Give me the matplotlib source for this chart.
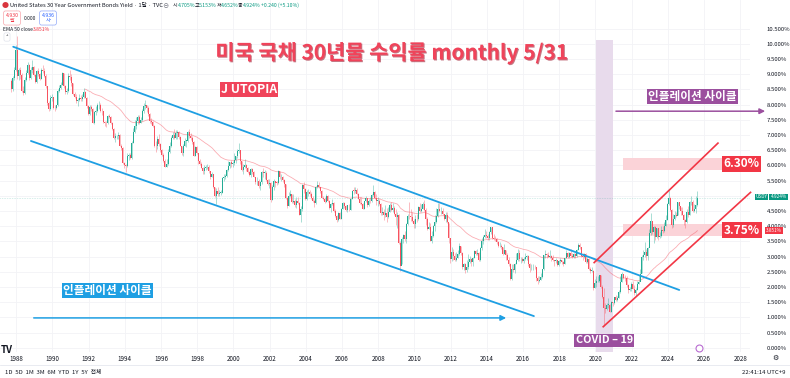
import matplotlib.pyplot as plt
import matplotlib.patheffects as pe
import numpy as np
import pandas as pd
from matplotlib.patches import Rectangle

plt.rcParams['font.family'] = ['Noto Sans CJK KR', 'DejaVu Sans']

# monthly candles, first bar = Jun 1987, last bar = May 2025
first_month = 1987 + 5 / 12
first_open = 8.78

close = [
    8.50, 8.88, 9.15, 9.78, 8.95, 9.12, 8.98,                             # 1987 Jun-Dec
    8.45, 8.38, 8.82, 9.05, 9.30, 8.86, 9.15, 9.25, 8.98, 8.75, 9.10, 9.00,  # 1988
    8.85, 9.15, 9.10, 8.95, 8.60, 8.05, 7.85, 8.20, 8.25, 7.90, 7.88, 7.97,  # 1989
    8.45, 8.55, 8.65, 9.02, 8.62, 8.42, 8.43, 8.95, 8.90, 8.70, 8.35, 8.24,  # 1990
    8.12, 8.15, 8.22, 8.18, 8.25, 8.40, 8.22, 7.95, 7.70, 7.92, 7.85, 7.40,  # 1991
    7.75, 7.80, 7.97, 8.00, 7.80, 7.78, 7.42, 7.40, 7.38, 7.62, 7.60, 7.40,  # 1992
    7.20, 6.90, 6.95, 6.95, 7.00, 6.65, 6.58, 6.08, 6.02, 5.98, 6.30, 6.35,  # 1993
    6.25, 6.75, 7.10, 7.30, 7.45, 7.60, 7.40, 7.50, 7.80, 7.95, 7.98, 7.88,  # 1994
    7.70, 7.45, 7.42, 7.30, 6.65, 6.62, 6.85, 6.70, 6.50, 6.35, 6.15, 5.95,  # 1995
    6.05, 6.45, 6.65, 6.90, 7.00, 6.90, 7.05, 7.10, 6.92, 6.65, 6.40, 6.64,  # 1996
    6.80, 6.80, 7.10, 6.95, 6.90, 6.78, 6.30, 6.60, 6.40, 6.15, 6.05, 5.92,  # 1997
    5.80, 5.92, 5.93, 5.95, 5.80, 5.62, 5.72, 5.27, 5.00, 5.15, 5.05, 5.09,  # 1998
    5.09, 5.58, 5.63, 5.66, 5.83, 5.97, 6.10, 6.05, 6.06, 6.16, 6.29, 6.48,  # 1999
    6.49, 6.14, 5.83, 5.96, 6.01, 5.90, 5.78, 5.67, 5.88, 5.79, 5.61, 5.46,  # 2000
    5.50, 5.31, 5.44, 5.79, 5.75, 5.76, 5.52, 5.37, 5.42, 4.87, 5.29, 5.47,  # 2001
    5.43, 5.42, 5.80, 5.60, 5.62, 5.52, 5.37, 4.93, 4.67, 4.99, 5.04, 4.78,  # 2002
    4.84, 4.68, 4.82, 4.77, 4.36, 4.56, 5.36, 5.22, 4.88, 5.11, 5.12, 5.07,  # 2003
    4.92, 4.83, 4.77, 5.29, 5.34, 5.29, 5.17, 4.94, 4.88, 4.79, 5.00, 4.83,  # 2004
    4.59, 4.72, 4.75, 4.50, 4.32, 4.19, 4.43, 4.24, 4.56, 4.76, 4.67, 4.54,  # 2005
    4.69, 4.54, 4.89, 5.17, 5.16, 5.19, 5.07, 4.89, 4.77, 4.72, 4.56, 4.81,  # 2006
    4.92, 4.68, 4.84, 4.81, 5.01, 5.12, 4.92, 4.83, 4.83, 4.72, 4.42, 4.45,  # 2007
    4.35, 4.42, 4.30, 4.48, 4.71, 4.53, 4.58, 4.41, 4.31, 4.36, 3.44, 2.69,  # 2008
    3.59, 3.71, 3.56, 4.08, 4.34, 4.32, 4.29, 4.18, 4.06, 4.24, 4.22, 4.64,  # 2009
    4.49, 4.57, 4.72, 4.53, 4.22, 3.91, 3.98, 3.52, 3.69, 3.99, 4.12, 4.34,  # 2010
    4.57, 4.50, 4.51, 4.40, 4.22, 4.37, 4.12, 3.60, 2.91, 3.16, 3.01, 2.89,  # 2011
    2.94, 3.09, 3.34, 3.11, 2.64, 2.75, 2.55, 2.67, 2.82, 2.91, 2.81, 2.95,  # 2012
    3.17, 3.09, 3.10, 2.88, 3.27, 3.50, 3.64, 3.70, 3.69, 3.62, 3.81, 3.96,  # 2013
    3.60, 3.58, 3.56, 3.47, 3.33, 3.36, 3.32, 3.08, 3.20, 3.06, 2.89, 2.75,  # 2014
    2.25, 2.59, 2.54, 2.75, 2.88, 3.12, 2.91, 2.92, 2.85, 2.92, 2.98, 3.01,  # 2015
    2.75, 2.61, 2.61, 2.67, 2.64, 2.29, 2.18, 2.23, 2.32, 2.58, 3.04, 3.07,  # 2016
    3.06, 3.00, 3.01, 2.96, 2.87, 2.84, 2.90, 2.73, 2.86, 2.88, 2.83, 2.74,  # 2017
    2.95, 3.13, 2.97, 3.11, 3.03, 2.99, 3.08, 3.02, 3.21, 3.39, 3.30, 3.02,  # 2018
    3.00, 3.09, 2.82, 2.93, 2.58, 2.53, 2.53, 1.97, 2.12, 2.19, 2.21, 2.39,  # 2019
    2.00, 1.68, 1.32, 1.28, 1.41, 1.41, 1.19, 1.49, 1.46, 1.66, 1.57, 1.65,  # 2020
    1.83, 2.17, 2.41, 2.30, 2.29, 2.06, 1.89, 1.93, 2.08, 1.93, 1.79, 1.90,  # 2021
    2.11, 2.16, 2.44, 3.00, 3.05, 3.14, 3.01, 3.28, 3.78, 4.17, 3.79, 3.97,  # 2022
    3.63, 3.93, 3.65, 3.67, 3.86, 3.85, 4.02, 4.20, 4.73, 4.93, 4.54, 4.03,  # 2023
    4.22, 4.38, 4.34, 4.79, 4.65, 4.51, 4.36, 4.20, 4.12, 4.47, 4.36, 4.78,  # 2024
    4.79, 4.49, 4.57, 4.705, 4.924,                                          # 2025 Jan-May
]

high = [
    8.85, 8.95, 9.25, 9.95, 10.25, 9.20, 9.25,
    9.05, 8.60, 8.90, 9.15, 9.40, 9.32, 9.25, 9.45, 9.28, 9.00, 9.15, 9.20,
    9.05, 9.20, 9.30, 9.20, 9.00, 8.62, 8.10, 8.30, 8.35, 8.25, 7.98, 8.00,
    8.50, 8.65, 8.75, 9.08, 9.05, 8.65, 8.55, 9.05, 9.15, 9.00, 8.72, 8.40,
    8.35, 8.22, 8.35, 8.30, 8.35, 8.55, 8.45, 8.25, 7.98, 7.98, 7.98, 7.90,
    7.80, 7.95, 8.05, 8.10, 8.05, 7.90, 7.80, 7.45, 7.45, 7.65, 7.70, 7.62,
    7.42, 7.22, 7.05, 7.00, 7.10, 7.02, 6.70, 6.60, 6.12, 6.05, 6.40, 6.42,
    6.40, 6.80, 7.22, 7.48, 7.60, 7.65, 7.65, 7.60, 7.85, 8.05, 8.16, 8.00,
    7.95, 7.72, 7.55, 7.45, 7.32, 6.80, 6.95, 7.02, 6.72, 6.52, 6.40, 6.20,
    6.20, 6.55, 6.78, 6.95, 7.08, 7.20, 7.15, 7.15, 7.12, 6.95, 6.65, 6.70,
    6.90, 6.82, 7.12, 7.18, 7.05, 6.95, 6.80, 6.65, 6.62, 6.42, 6.20, 6.10,
    5.95, 6.00, 6.00, 6.05, 6.00, 5.82, 5.78, 5.72, 5.30, 5.25, 5.30, 5.20,
    5.20, 5.60, 5.70, 5.72, 5.88, 6.15, 6.12, 6.18, 6.15, 6.40, 6.32, 6.52,
    6.75, 6.50, 6.15, 6.05, 6.20, 6.05, 5.95, 5.82, 5.90, 5.92, 5.80, 5.62,
    5.62, 5.55, 5.50, 5.82, 5.90, 5.85, 5.80, 5.55, 5.55, 5.45, 5.35, 5.55,
    5.50, 5.48, 5.85, 5.82, 5.70, 5.65, 5.55, 5.40, 4.95, 5.12, 5.20, 5.05,
    5.05, 4.90, 4.95, 4.95, 4.78, 4.65, 5.38, 5.45, 5.25, 5.20, 5.22, 5.20,
    5.12, 4.98, 4.88, 5.32, 5.48, 5.45, 5.30, 5.18, 5.00, 4.95, 5.05, 5.02,
    4.85, 4.75, 4.90, 4.78, 4.55, 4.38, 4.48, 4.48, 4.60, 4.80, 4.80, 4.70,
    4.70, 4.72, 4.92, 5.20, 5.30, 5.30, 5.25, 5.08, 4.95, 4.95, 4.75, 4.82,
    4.98, 4.92, 4.88, 4.95, 5.05, 5.35, 5.15, 5.05, 4.95, 4.90, 4.75, 4.62,
    4.55, 4.70, 4.60, 4.62, 4.75, 4.80, 4.75, 4.65, 4.55, 4.45, 4.40, 3.50,
    3.65, 3.75, 3.85, 4.10, 4.40, 4.80, 4.55, 4.45, 4.25, 4.35, 4.40, 4.65,
    4.75, 4.72, 4.80, 4.85, 4.60, 4.30, 4.15, 4.10, 3.85, 4.05, 4.35, 4.60,
    4.75, 4.77, 4.62, 4.60, 4.40, 4.45, 4.45, 4.10, 3.60, 3.30, 3.25, 3.10,
    3.15, 3.20, 3.45, 3.35, 3.15, 2.80, 2.80, 2.90, 3.08, 3.02, 2.95, 3.00,
    3.20, 3.22, 3.25, 3.15, 3.32, 3.60, 3.72, 3.90, 3.85, 3.75, 3.85, 3.98,
    3.95, 3.75, 3.68, 3.62, 3.50, 3.48, 3.42, 3.32, 3.40, 3.22, 3.10, 3.00,
    2.78, 2.75, 2.75, 2.80, 3.10, 3.25, 3.20, 3.00, 3.00, 3.00, 3.10, 3.05,
    3.05, 2.80, 2.75, 2.75, 2.72, 2.65, 2.35, 2.35, 2.45, 2.60, 3.05, 3.20,
    3.10, 3.15, 3.20, 3.05, 3.05, 2.90, 2.95, 2.90, 2.90, 2.95, 2.90, 2.85,
    2.95, 3.22, 3.15, 3.14, 3.25, 3.10, 3.10, 3.10, 3.24, 3.46, 3.43, 3.32,
    3.10, 3.10, 3.12, 2.98, 2.95, 2.65, 2.65, 2.55, 2.25, 2.36, 2.35, 2.40,
    2.40, 2.05, 1.95, 1.48, 1.48, 1.65, 1.45, 1.55, 1.50, 1.68, 1.75, 1.70,
    1.90, 2.35, 2.50, 2.40, 2.40, 2.35, 2.10, 2.00, 2.15, 2.20, 2.05, 1.95,
    2.20, 2.40, 2.60, 3.05, 3.20, 3.48, 3.25, 3.30, 3.90, 4.42, 4.15, 4.00,
    4.00, 3.95, 3.95, 3.80, 4.00, 4.00, 4.15, 4.38, 4.75, 5.18, 4.95, 4.55,
    4.40, 4.50, 4.45, 4.80, 4.80, 4.62, 4.62, 4.40, 4.25, 4.55, 4.65, 4.82,
    4.99, 4.85, 4.72, 4.98, 5.153,
]

low = [
    8.40, 8.45, 8.80, 9.10, 8.85, 8.80, 8.85,
    8.40, 8.30, 8.35, 8.78, 9.00, 8.80, 8.85, 9.05, 8.95, 8.70, 8.72, 8.95,
    8.80, 8.85, 9.05, 8.90, 8.55, 8.00, 7.80, 7.82, 8.12, 7.85, 7.80, 7.85,
    7.95, 8.40, 8.52, 8.65, 8.55, 8.35, 8.35, 8.40, 8.82, 8.62, 8.30, 8.20,
    8.05, 7.95, 8.10, 8.10, 8.12, 8.22, 8.20, 7.90, 7.65, 7.65, 7.78, 7.38,
    7.35, 7.65, 7.75, 7.85, 7.75, 7.65, 7.38, 7.30, 7.25, 7.35, 7.55, 7.35,
    7.15, 6.85, 6.78, 6.85, 6.88, 6.62, 6.50, 6.05, 5.90, 5.78, 5.95, 6.18,
    6.20, 6.22, 6.72, 7.05, 7.20, 7.35, 7.35, 7.38, 7.45, 7.72, 7.85, 7.75,
    7.62, 7.40, 7.35, 7.25, 6.60, 6.45, 6.55, 6.65, 6.45, 6.30, 6.10, 5.95,
    5.95, 6.00, 6.40, 6.60, 6.85, 6.85, 6.85, 6.85, 6.85, 6.62, 6.35, 6.30,
    6.62, 6.60, 6.78, 6.90, 6.82, 6.70, 6.30, 6.30, 6.38, 6.05, 6.00, 5.90,
    5.70, 5.72, 5.85, 5.88, 5.75, 5.55, 5.60, 5.25, 4.95, 4.72, 5.00, 4.98,
    5.02, 5.08, 5.50, 5.55, 5.60, 5.80, 5.92, 5.95, 5.95, 6.02, 6.08, 6.25,
    6.40, 6.05, 5.80, 5.70, 5.90, 5.82, 5.75, 5.65, 5.62, 5.70, 5.60, 5.40,
    5.35, 5.25, 5.20, 5.40, 5.60, 5.55, 5.50, 5.35, 5.25, 4.80, 4.85, 5.20,
    5.30, 5.35, 5.40, 5.55, 5.50, 5.45, 5.30, 4.90, 4.60, 4.65, 4.95, 4.75,
    4.75, 4.62, 4.60, 4.72, 4.35, 4.15, 4.50, 5.10, 4.85, 4.85, 5.00, 4.98,
    4.90, 4.80, 4.62, 4.72, 5.25, 5.25, 5.10, 4.92, 4.85, 4.75, 4.78, 4.80,
    4.55, 4.45, 4.68, 4.48, 4.30, 4.15, 4.18, 4.22, 4.22, 4.55, 4.60, 4.50,
    4.45, 4.50, 4.52, 4.88, 5.05, 5.10, 5.02, 4.88, 4.72, 4.70, 4.55, 4.55,
    4.78, 4.62, 4.65, 4.75, 4.80, 5.00, 4.90, 4.70, 4.65, 4.70, 4.35, 4.38,
    4.20, 4.30, 4.15, 4.28, 4.45, 4.50, 4.45, 4.38, 4.05, 3.95, 3.40, 2.52,
    2.75, 3.45, 3.50, 3.45, 4.05, 4.25, 4.18, 4.12, 3.95, 3.95, 4.15, 4.20,
    4.45, 4.45, 4.55, 4.50, 4.05, 3.88, 3.90, 3.50, 3.45, 3.65, 3.85, 4.10,
    4.30, 4.45, 4.40, 4.35, 4.20, 4.15, 4.10, 3.45, 2.80, 2.85, 2.90, 2.85,
    2.85, 2.95, 3.05, 3.05, 2.60, 2.55, 2.45, 2.50, 2.60, 2.80, 2.70, 2.70,
    2.95, 3.05, 3.05, 2.85, 2.85, 3.20, 3.40, 3.60, 3.60, 3.55, 3.55, 3.75,
    3.58, 3.55, 3.50, 3.42, 3.30, 3.30, 3.25, 3.05, 3.08, 2.90, 2.88, 2.70,
    2.22, 2.22, 2.50, 2.45, 2.75, 2.85, 2.85, 2.78, 2.82, 2.80, 2.90, 2.90,
    2.70, 2.50, 2.55, 2.55, 2.60, 2.20, 2.10, 2.17, 2.22, 2.30, 2.55, 2.95,
    2.95, 2.98, 2.95, 2.85, 2.85, 2.70, 2.80, 2.70, 2.70, 2.80, 2.75, 2.70,
    2.75, 2.95, 2.95, 2.95, 3.00, 2.95, 2.95, 2.95, 3.00, 3.20, 3.25, 2.98,
    2.90, 2.95, 2.80, 2.80, 2.55, 2.45, 2.50, 1.90, 1.95, 2.00, 2.15, 2.15,
    1.95, 1.62, 0.70, 1.15, 1.25, 1.30, 1.17, 1.18, 1.38, 1.44, 1.54, 1.55,
    1.62, 1.80, 2.15, 2.25, 2.20, 2.00, 1.80, 1.85, 1.85, 1.92, 1.75, 1.70,
    1.90, 2.08, 2.20, 2.45, 2.90, 3.00, 2.90, 2.90, 3.30, 3.70, 3.75, 3.45,
    3.55, 3.60, 3.55, 3.60, 3.65, 3.78, 3.80, 4.00, 4.20, 4.70, 4.50, 3.95,
    3.98, 4.20, 4.30, 4.35, 4.55, 4.35, 4.35, 4.05, 3.95, 4.10, 4.30, 4.35,
    4.70, 4.48, 4.48, 4.42, 4.652,
]

year_ticks = list(range(1988, 2030, 2))
price_ticks = np.arange(0, 10.51, 0.5)
ohlc_legend = [('시', '4.705%'), ('고', '5.153%'), ('저', '4.652%'), ('종', '4.924%')]

UP = '#22ab94'
DOWN = '#f7525f'
BLUE = '#1e9fe3'
PURPLE = '#9b4f9e'
RED = '#f23645'
W, H = 790, 378

c = np.array(close)
o = np.concatenate([[first_open], c[:-1]])
hi = np.array(high)
lo = np.array(low)
t = first_month + np.arange(len(c)) / 12
cols = np.where(c >= o, UP, DOWN)

fig = plt.figure(figsize=(W / 100, H / 100), dpi=100)
ax = fig.add_axes([0, 26 / H, 750 / W, 352 / H])
ax.set_xlim(1986.80, 2028.24)
ax.set_ylim(-0.141, 11.4375)
for s in ax.spines.values():
    s.set_visible(False)

# grid
for y in price_ticks:
    ax.axhline(y, color='#f2f3f6', lw=0.6, zorder=0)
for yr in year_ticks:
    ax.axvline(yr - 0.3, color='#f2f3f6', lw=0.6, zorder=0)

# covid band
ax.add_patch(Rectangle((2019.73, -0.2), 0.92, 10.32, color='#e8dbec', lw=0, zorder=0.5))

# candles
ax.vlines(t, lo, hi, colors=cols, lw=0.5, alpha=0.55, zorder=2)
body = np.maximum(np.abs(c - o), 0.02)
ax.bar(t, body, bottom=np.minimum(o, c), width=0.055, color=cols, lw=0, zorder=3)

# EMA 50
ema = pd.Series(c).ewm(span=50, adjust=False).mean().values
ax.plot(t[49:], ema[49:], color='#f7525f', lw=0.55, alpha=0.5, zorder=2.5)

# last price line
ax.axhline(c[-1], color='#089981', lw=0.4, ls=(0, (1, 2)), alpha=0.5, zorder=1)

# trend lines
ax.plot([1987.53, 2024.33], [9.90, 1.90], color=BLUE, lw=1.3, zorder=4, solid_capstyle='round')
ax.plot([1988.51, 2016.30], [6.80, 1.04], color=BLUE, lw=1.3, zorder=4, solid_capstyle='round')
ax.annotate('', xy=(2014.92, 0.98), xytext=(1988.51, 0.98),
            arrowprops=dict(arrowstyle='-|>', color=BLUE, lw=1.1, mutation_scale=8))
ax.plot([2019.63, 2026.47], [2.80, 6.73], color=RED, lw=1.2, zorder=4)
ax.plot([2020.13, 2028.27], [0.69, 5.11], color=RED, lw=1.2, zorder=4, clip_on=False)
ax.annotate('', xy=(2029.23, 7.78), xytext=(2020.68, 7.78), annotation_clip=False,
            arrowprops=dict(arrowstyle='-|>', color=PURPLE, lw=1.1, mutation_scale=8))

# pink zones
ax.add_patch(Rectangle((2021.20, 5.86), 5.62, 0.38, color='#fbd3d8', lw=0, zorder=1))
ax.add_patch(Rectangle((2021.20, 3.67), 5.62, 0.40, color='#fbd3d8', lw=0, zorder=1))

# labels
def tag(x, y, s, bg, size, pad=0.15):
    ax.text(x, y, s, color='white', fontsize=size, fontweight='bold', ha='center', va='center',
            zorder=6, clip_on=False,
            bbox=dict(boxstyle='square,pad=%s' % pad, fc=bg, ec='none'))

shadow = [pe.SimplePatchShadow(offset=(0.7, -0.7), shadow_rgbFace='#9e1f33', alpha=0.6), pe.Normal()]
ax.text(2008.44, 9.70, '미국 국채 30년물 수익률 monthly 5/31', color='#f0435a', fontsize=15,
        fontweight='heavy', ha='center', va='center', zorder=6, path_effects=shadow)
tag(2000.56, 8.48, 'J UTOPIA', '#f0435a', 8.8, pad=0.08)
tag(1992.74, 1.88, '인플레이션 사이클', BLUE, 8.4, pad=0.1)
tag(2025.06, 8.26, '인플레이션 사이클', PURPLE, 8.4, pad=0.1)
tag(2020.18, 0.24, 'COVID – 19', PURPLE, 7.8, pad=0.12)
tag(2027.78, 6.05, '6.30%', RED, 8.5)
tag(2027.78, 3.87, '3.75%', RED, 8.5)

# earnings marker
ax.plot([2025.4], [0.0], marker='o', ms=5, mfc='white', mec='#b86bd1', mew=0.8, zorder=6, clip_on=False)

# axes labels
ax.set_xticks([yr - 0.3 for yr in year_ticks])
ax.set_xticklabels([str(yr) for yr in year_ticks], fontsize=4.5, color='#131722')
ax.tick_params(axis='x', length=0, pad=2)
ax.yaxis.tick_right()
ax.set_yticks(price_ticks)
# 5.000% sits under the last-price tag, as on the chart
ax.set_yticklabels(['' if v == 5.0 else '%.3f%%' % v for v in price_ticks],
                   fontsize=4.3, color='#131722')
ax.tick_params(axis='y', length=0, pad=12)

# right axis tags
def ftxt(x, y, s, **kw):
    fig.text(x / W, 1 - y / H, s, **kw)

ftxt(761.5, 197, 'USDY', fontsize=3.4, color='white', ha='center', va='center',
     bbox=dict(boxstyle='square,pad=0.2', fc='#089981', ec='none'))
ftxt(778.5, 197, '4.924%', fontsize=3.4, color='white', ha='center', va='center',
     bbox=dict(boxstyle='square,pad=0.2', fc='#089981', ec='none'))
ftxt(774, 230.5, '3.851%', fontsize=3.4, color='white', ha='center', va='center',
     bbox=dict(boxstyle='square,pad=0.2', fc=RED, ec='none'))

# header legend
ftxt(5, 5.5, '●', fontsize=5, color='#d9363e', ha='center', va='center')
ftxt(10, 5.5, 'United States 30 Year Government Bonds Yield · 1달 · TVC', fontsize=4.1,
     color='#131722', va='center')
ftxt(165.5, 5.5, '⊖', fontsize=4.5, color='#787b86', ha='center', va='center')
for i, (k, v) in enumerate(ohlc_legend):
    ftxt(173 + 21.7 * i, 5.5, k, fontsize=3.7, color='#131722', va='center')
    ftxt(177.5 + 21.7 * i, 5.5, v, fontsize=3.7, color='#089981', va='center')
ftxt(261, 5.5, '+0.240 (+5.10%)', fontsize=3.7, color='#089981', va='center')
ftxt(12, 18, '4.930\n팔', fontsize=3.8, color=RED, ha='center', va='center', linespacing=1.1,
     bbox=dict(boxstyle='round,pad=0.35', fc='white', ec='#f7a5ab', lw=0.5))
ftxt(30, 18, '0.000', fontsize=3.5, color='#131722', ha='center', va='center')
ftxt(48, 18, '4.936\n사', fontsize=3.8, color='#2962ff', ha='center', va='center', linespacing=1.1,
     bbox=dict(boxstyle='round,pad=0.35', fc='white', ec='#90a8f8', lw=0.5))
ftxt(3, 29.5, 'EMA 50 close', fontsize=3.6, color='#131722', va='center')
ftxt(32.5, 29.5, '3.851%', fontsize=3.6, color=RED, va='center')
ftxt(7, 37, '˄', fontsize=4, color='#131722', ha='center', va='center',
     bbox=dict(boxstyle='round,pad=0.3', fc='white', ec='#e0e3eb', lw=0.5))

# logo and bottom toolbar
ftxt(7, 350, 'TV', fontsize=7, fontweight='bold', color='#131722', ha='center', va='center')
fig.add_artist(plt.Line2D([0, 1], [1 - 365 / H] * 2, color='#e0e3eb', lw=0.5))
ftxt(5, 372, '1D  5D  1M  3M  6M  YTD  1Y  5Y  전체', fontsize=4.3, color='#131722', va='center')
ftxt(785, 372, '22:41:14 UTC+9', fontsize=4.3, color='#131722', ha='right', va='center')
ftxt(775, 358, '⚙', fontsize=5, color='#131722', ha='center', va='center')

fig.savefig('out.png', dpi=100)
